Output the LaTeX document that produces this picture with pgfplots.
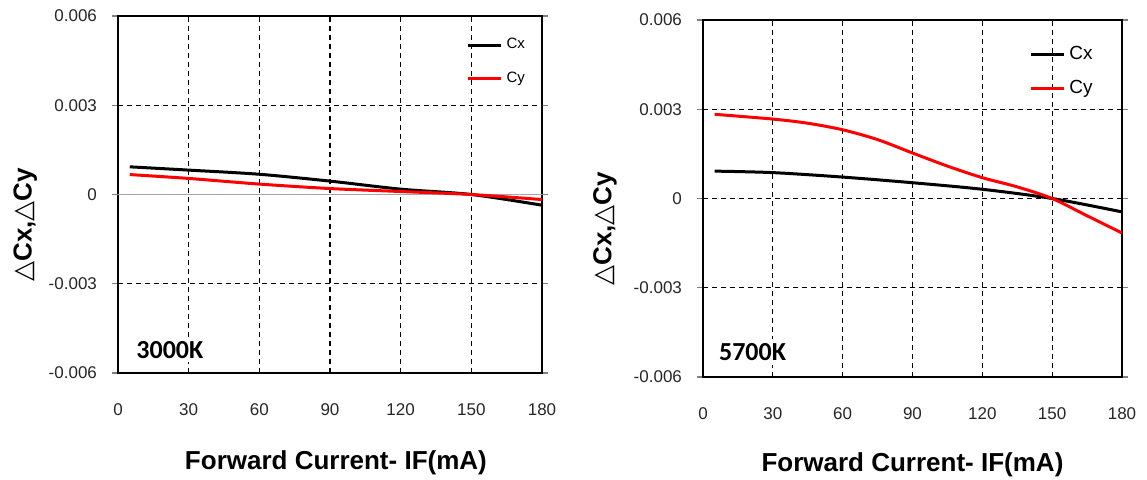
\documentclass[border=0pt]{standalone}
\usepackage{pgfplots}
\pgfplotsset{compat=1.18}
\usepackage{fontspec}
\setmainfont{Liberation Sans}
\newfontfamily\dv{DejaVu Sans}
\newfontfamily\calfont{Carlito}
\pgfplotsset{
  myax/.style={
    scale only axis,
    height=178.5pt,
    xmin=0, xmax=180, ymin=-0.006, ymax=0.006,
    scaled y ticks=false,
    xtick={0,30,60,90,120,150,180},
    xticklabels={0,30,60,90,120,150,180},
    axis line style={line width=1.4pt},
    grid=major,
    grid style={black, line width=0.55pt, dash pattern=on 2.5pt off 2pt},
    tick align=outside,
    major tick length=3pt,
    xtick style={draw=none},
    ytick style={gray, line width=0.6pt},
    tick label style={font=\fontsize{8.5}{10}\selectfont, text=black!85},
    xticklabel style={yshift=-9pt},
    yticklabel style={xshift=-4pt},
    label style={font=\fontsize{13}{15}\selectfont\bfseries},
    legend cell align=left,
    legend image code/.code={\draw[#1, line width=1.5pt] (0cm,0cm) -- (0.58cm,0cm);},
    xlabel={Forward Current- IF(mA)},
    ylabel={{\dv △}Cx,{\dv △}Cy},
  }
}
\begin{document}
\begin{tikzpicture}
\path[use as bounding box] (0,0) rectangle (573.5pt,240pt);
\begin{axis}[myax,
  at={(59pt,53.5pt)}, anchor=south west,
  width=212pt,
  ytick={-0.006,-0.003,0.003,0.006},
  yticklabels={-0.006,-0.003,0.003,0.006},
  extra y ticks={0},
  extra y tick labels={0},
  extra y tick style={grid style={gray!70, solid, line width=0.6pt}},
  xlabel style={at={(rel axis cs:0.514,-0.252)}, anchor=center},
  ylabel style={at={(rel axis cs:-0.219,0.415)}, anchor=center},
  legend style={at={(rel axis cs:0.975,0.955)}, anchor=north east, draw=none, fill=none,
    font=\fontsize{7.5}{9}\selectfont, row sep=6pt, inner sep=1pt},
]
\addplot[black, line width=1.5pt, smooth] coordinates {(5,0.00093) (30,0.00082) (60,0.00068) (90,0.00045) (120,0.00018) (150,0.0) (180,-0.00036)};
\addlegendentry{Cx}
\addplot[red, line width=1.5pt, smooth] coordinates {(5,0.00067) (30,0.00054) (60,0.00035) (90,0.0002) (120,0.0001) (150,0.0) (180,-0.00017)};
\addlegendentry{Cy}
\node[fill=white, anchor=west, inner sep=2pt, font=\calfont\fontsize{13}{15}\selectfont\bfseries] at (rel axis cs:0.033,0.065) {3000K};
\end{axis}
\begin{axis}[myax,
  at={(351.5pt,51.5pt)}, anchor=south west,
  width=209.5pt,
  ytick={-0.006,-0.003,0,0.003,0.006},
  yticklabels={-0.006,-0.003,0,0.003,0.006},
  xlabel style={at={(rel axis cs:0.5,-0.246)}, anchor=center},
  ylabel style={at={(rel axis cs:-0.234,0.415)}, anchor=center},
  legend style={at={(rel axis cs:0.945,0.945)}, anchor=north east, draw=none, fill=none,
    font=\fontsize{9.5}{11}\selectfont, row sep=5pt, inner sep=1pt},
]
\addplot[black, line width=1.5pt, smooth] coordinates {(5,0.00092) (30,0.00087) (60,0.00072) (90,0.00053) (120,0.00031) (150,0) (180,-0.00045)};
\addlegendentry{Cx}
\addplot[red, line width=1.5pt, smooth] coordinates {(5,0.00283) (30,0.00267) (45,0.00253) (60,0.00231) (75,0.00198) (90,0.00153) (105,0.00109) (120,0.0007) (135,0.00039) (150,0) (165,-0.00058) (180,-0.00116)};
\addlegendentry{Cy}
\node[fill=white, anchor=west, inner sep=2pt, font=\calfont\fontsize{13}{15}\selectfont\bfseries] at (rel axis cs:0.028,0.07) {5700K};
\end{axis}
\end{tikzpicture}
\end{document}
